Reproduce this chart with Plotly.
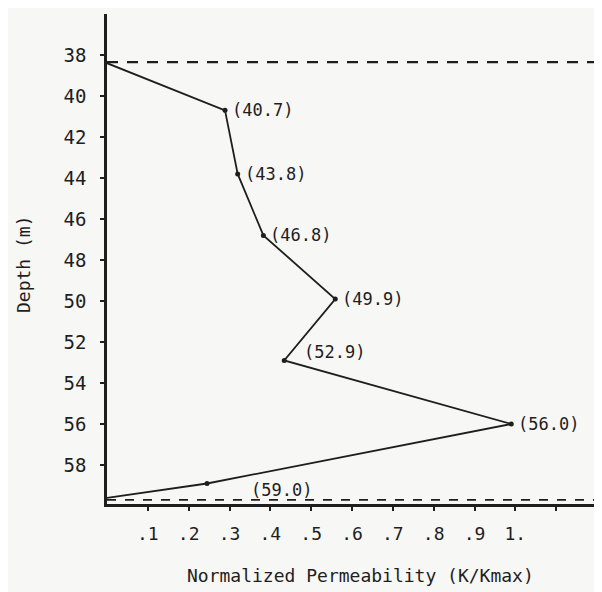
import plotly.graph_objects as go

# Data
perm = [0.0, 0.289, 0.32, 0.383, 0.559, 0.434, 0.99, 0.245, 0.0]
depth = [38.4, 40.7, 43.8, 46.8, 49.9, 52.9, 56.0, 58.9, 59.6]
point_labels = ["", "(40.7)", "(43.8)", "(46.8)", "(49.9)", "(52.9)", "(56.0)", "(59.0)", ""]
top_boundary = 38.35
bottom_boundary = 59.7

y_ticks = [38, 40, 42, 44, 46, 48, 50, 52, 54, 56, 58]
x_ticks = [0.1, 0.2, 0.3, 0.4, 0.5, 0.6, 0.7, 0.8, 0.9, 1.0, 1.1, 1.2]
x_ticktext = [".1", ".2", ".3", ".4", ".5", ".6", ".7", ".8", ".9", "1.", "", ""]

ink = "#1e1e1e"
bg = "#f7f7f5"
font_family = "DejaVu Sans Mono"

fig = go.Figure()

# Dashed boundary lines
fig.add_trace(go.Scatter(
    x=[0, 1.2], y=[top_boundary, top_boundary], mode="lines",
    line=dict(color=ink, width=2.2, dash="11px,9px"),
    hoverinfo="skip", showlegend=False))
fig.add_trace(go.Scatter(
    x=[0, 1.2], y=[bottom_boundary, bottom_boundary], mode="lines",
    line=dict(color=ink, width=1.6, dash="9px,9px"),
    hoverinfo="skip", showlegend=False))

# Profile line
fig.add_trace(go.Scatter(
    x=perm, y=depth, mode="lines",
    line=dict(color=ink, width=1.8),
    showlegend=False))

# Marked points
fig.add_trace(go.Scatter(
    x=perm[1:-1], y=depth[1:-1], mode="markers",
    marker=dict(color=ink, size=5),
    showlegend=False))

# Point labels
offsets = {
    "(40.7)": (5, 0), "(43.8)": (5, 0), "(46.8)": (5, 0), "(49.9)": (5, 0),
    "(52.9)": (18, 8), "(56.0)": (5, 0), "(59.0)": (42, -6),
}
for xv, yv, t in zip(perm, depth, point_labels):
    if not t:
        continue
    dx, dy = offsets[t]
    fig.add_annotation(
        x=xv, y=yv, text=t, showarrow=False, xanchor="left", yanchor="middle",
        xshift=dx, yshift=dy,
        font=dict(family=font_family, size=17, color=ink))

# Axis titles (placed in pixels relative to the plot area)
fig.add_annotation(
    xref="paper", yref="paper", x=0, y=0.5, xanchor="center", yanchor="middle",
    xshift=-84, yshift=-5, textangle=-90, showarrow=False,
    text="Depth (m)", font=dict(family=font_family, size=18, color=ink))
fig.add_annotation(
    xref="paper", yref="paper", x=0.518, y=0, xanchor="center", yanchor="middle",
    yshift=-71, showarrow=False,
    text="Normalized Permeability (K/Kmax)",
    font=dict(family=font_family, size=18, color=ink))

axis_common = dict(
    showgrid=False, zeroline=False, showline=True, linecolor=ink, linewidth=2.5,
    ticks="outside", ticklen=4, tickwidth=2, tickcolor=ink,
)

fig.update_layout(
    width=594, height=584,
    margin=dict(l=99, r=5, t=6, b=88),
    paper_bgcolor=bg, plot_bgcolor=bg,
    xaxis=dict(
        range=[0, 1.2], tickvals=x_ticks, ticktext=x_ticktext,
        ticklabelstandoff=8,
        tickfont=dict(family=font_family, size=18, color=ink),
        **axis_common),
    yaxis=dict(
        range=[59.9, 36.0], tickvals=y_ticks,
        ticklabelstandoff=10,
        tickfont=dict(family=font_family, size=19, color=ink),
        **axis_common),
)

fig.write_html("out.html")
